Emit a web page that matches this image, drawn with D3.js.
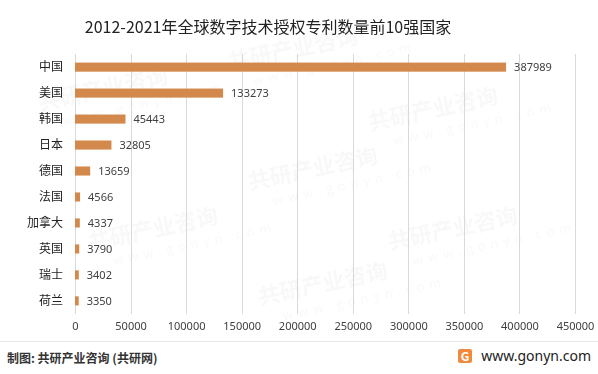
<!DOCTYPE html>
<html>
<head>
<meta charset="utf-8">
<script src="https://cdn.jsdelivr.net/npm/d3@7"></script>
<style>
  body { margin: 0; background: #fff; }
  text { font-family: "Noto Sans CJK SC", "Noto Sans", sans-serif; }
</style>
</head>
<body>
<div id="chart"></div>
<script>
// data
var countries = ["中国", "美国", "韩国", "日本", "德国", "法国", "加拿大", "英国", "瑞士", "荷兰"];
var patents = [387989, 133273, 45443, 32805, 13659, 4566, 4337, 3790, 3402, 3350];
var xTicks = [0, 50000, 100000, 150000, 200000, 250000, 300000, 350000, 400000, 450000];

var W = 598, H = 374;
var margin = {top: 54, right: 23, bottom: 60, left: 75};
var width = W - margin.left - margin.right;
var height = H - margin.top - margin.bottom;

var svg = d3.select("#chart").append("svg")
    .attr("width", W)
    .attr("height", H);

// faint watermarks
var wm = svg.append("g").attr("fill", "#000").attr("opacity", 0.03);
[[40, 110], [230, 70], [90, 250], [250, 190], [370, 130], [260, 305], [390, 250]].forEach(function (p) {
    var g = wm.append("g").attr("transform", "translate(" + p[0] + "," + p[1] + ") rotate(-12)");
    g.append("text").attr("font-size", 22).attr("font-weight", "bold").text("共研产业咨询");
    g.append("text").attr("y", 20).attr("x", 20).attr("font-size", 13).attr("letter-spacing", 5).text("www.gonyn.com");
});

// title
svg.append("text")
    .attr("x", 268)
    .attr("y", 33)
    .attr("text-anchor", "middle")
    .attr("font-size", 16)
    .attr("fill", "#222")
    .style("font-family", "'Noto Sans CJK SC', sans-serif")
    .text("2012-2021年全球数字技术授权专利数量前10强国家");

var g = svg.append("g")
    .attr("transform", "translate(" + margin.left + "," + margin.top + ")");

var x = d3.scaleLinear().domain([0, 450000]).range([0, width]);
var y = d3.scaleBand().domain(countries).range([0, height]).paddingInner(0.65).paddingOuter(0.33);

// gridlines
g.selectAll(".grid").data(xTicks).enter().append("line")
    .attr("class", "grid")
    .attr("x1", function (d) { return Math.round(x(d)) + 0.5; })
    .attr("x2", function (d) { return Math.round(x(d)) + 0.5; })
    .attr("y1", 0)
    .attr("y2", height)
    .attr("stroke", "#d9d9d9")
    .attr("stroke-width", 1);

// x axis labels
var xAxis = d3.axisBottom(x).tickValues(xTicks).tickSize(0).tickPadding(8).tickFormat(d3.format("d"));
var xa = g.append("g").attr("transform", "translate(0," + height + ")").call(xAxis);
xa.select(".domain").remove();
xa.selectAll("text").attr("font-size", 11).attr("fill", "#404040")
    .style("font-family", "'Noto Sans', sans-serif");

// y axis labels
var yAxis = d3.axisLeft(y).tickSize(0).tickPadding(12);
var ya = g.append("g").call(yAxis);
ya.select(".domain").remove();
ya.selectAll("text").attr("font-size", 12).attr("fill", "#222");

var rows = countries.map(function (c, i) { return {name: c, value: patents[i]}; });

// bars
g.selectAll(".bar").data(rows).enter().append("rect")
    .attr("class", "bar")
    .attr("x", x(0))
    .attr("y", function (d) { return y(d.name); })
    .attr("width", function (d) { return x(d.value) - x(0); })
    .attr("height", y.bandwidth())
    .attr("fill", "#D4894C");

// value labels
g.selectAll(".val").data(rows).enter().append("text")
    .attr("class", "val")
    .attr("x", function (d) { return x(d.value) + 8; })
    .attr("y", function (d) { return y(d.name) + y.bandwidth() / 2; })
    .attr("dy", "0.35em")
    .attr("font-size", 11)
    .attr("fill", "#404040")
    .style("font-family", "'Noto Sans', sans-serif")
    .text(function (d) { return d.value; });

// footer
svg.append("line")
    .attr("x1", 0).attr("x2", W)
    .attr("y1", 341.5).attr("y2", 341.5)
    .attr("stroke", "#e6e6e6");

svg.append("text")
    .attr("x", 7)
    .attr("y", 363)
    .attr("font-size", 12)
    .attr("font-weight", "bold")
    .attr("fill", "#333")
    .text("制图: 共研产业咨询 (共研网)");

// logo
var logo = svg.append("g").attr("transform", "translate(458,349)");
logo.append("rect").attr("width", 14).attr("height", 14).attr("rx", 2).attr("fill", "#F08A3C");
logo.append("text").attr("x", 7).attr("y", 11.5).attr("text-anchor", "middle")
    .attr("font-size", 12).attr("font-weight", "bold").attr("fill", "#fff").text("G");
svg.append("text")
    .attr("x", 591)
    .attr("y", 361)
    .attr("text-anchor", "end")
    .attr("font-size", 14)
    .attr("fill", "#222")
    .style("font-family", "'Noto Sans', sans-serif")
    .text("www.gonyn.com");
</script>
</body>
</html>
